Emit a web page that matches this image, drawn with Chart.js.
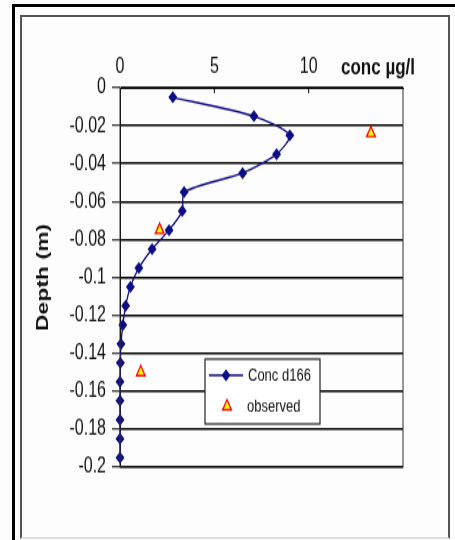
<!DOCTYPE html>
<html>
<head>
<meta charset="utf-8">
<script src="https://cdn.jsdelivr.net/npm/chart.js@4.4.1/dist/chart.umd.min.js"></script>
<style>
html, body { margin: 0; padding: 0; background: #fff; }
#page { position: relative; width: 455px; height: 540px; overflow: hidden; background: #fdfdfd; }
.topbar { position: absolute; left: 13px; top: 4px; width: 442px; height: 3px; background: #000; }
.leftbar { position: absolute; left: 12px; top: 4px; width: 3px; height: 536px; background: #000; }
.frame { position: absolute; left: 20px; top: 15px; width: 430px; height: 524px; box-sizing: border-box;
         border: 2px solid #555; border-bottom-color: #ddd; }
#wrap { position: absolute; left: 0; top: 0; width: 455px; height: 400px;
        transform: scaleY(1.35); transform-origin: 0 0; }
</style>
</head>
<body>
<div id="page">
  <div class="topbar"></div>
  <div class="leftbar"></div>
  <div class="frame"></div>
  <div id="wrap"><canvas id="myChart" width="455" height="400"></canvas></div>
</div>
<script>
// depth (m) of each modelled layer and the modelled concentration
const depth = [-0.005, -0.015, -0.025, -0.035, -0.045, -0.055, -0.065, -0.075, -0.085, -0.095,
               -0.105, -0.115, -0.125, -0.135, -0.145, -0.155, -0.165, -0.175, -0.185, -0.195];
const concD166 = [2.8, 7.1, 9.0, 8.3, 6.5, 3.4, 3.3, 2.6, 1.7, 1.0,
                  0.55, 0.3, 0.15, 0.05, 0.02, 0, 0, 0, 0, 0];

// observed samples
const obsDepth = [-0.024, -0.075, -0.15];
const obsConc = [13.3, 2.1, 1.1];

// tick labels
const xTickLabels = ['0', '5', '10', ''];
const yTickLabels = ['0', '-0.02', '-0.04', '-0.06', '-0.08', '-0.1', '-0.12', '-0.14', '-0.16', '-0.18', '-0.2'];

const FONT = '"Liberation Sans", Arial, sans-serif';
const NAVY = '#0c0c84';

function diamond(ctx, cx, cy, r) {
    ctx.beginPath();
    ctx.moveTo(cx, cy - r);
    ctx.lineTo(cx + r, cy);
    ctx.lineTo(cx, cy + r);
    ctx.lineTo(cx - r, cy);
    ctx.closePath();
    ctx.fill();
}

function triangle(ctx, cx, cy, r) {
    ctx.beginPath();
    ctx.moveTo(cx, cy - r);
    ctx.lineTo(cx + r * 0.87, cy + r * 0.5);
    ctx.lineTo(cx - r * 0.87, cy + r * 0.5);
    ctx.closePath();
    ctx.fill();
    ctx.stroke();
}

// plot frame, inner ticks of the top axis, axis title and the legend box
const decor = {
    id: 'decor',
    afterDraw(chart) {
        const {ctx, chartArea: a, scales: {x}} = chart;
        ctx.save();
        ctx.strokeStyle = '#333';
        ctx.lineWidth = 1;
        ctx.strokeRect(a.left, a.top, a.right - a.left, a.bottom - a.top);

        ctx.strokeStyle = '#000';
        x.ticks.forEach(t => {
            if (t.value === x.min || t.value === x.max) return;
            const px = x.getPixelForValue(t.value);
            ctx.beginPath();
            ctx.moveTo(px, a.top);
            ctx.lineTo(px, a.top + 4);
            ctx.stroke();
        });

        ctx.fillStyle = '#111';
        ctx.font = 'bold 17px ' + FONT;
        ctx.textAlign = 'center';
        ctx.textBaseline = 'bottom';
        ctx.fillText('conc µg/l', a.right - 25, x.bottom - 6);

        // legend
        const lx = 205, ly = 266, lw = 115, lh = 48;
        ctx.fillStyle = '#fff';
        ctx.fillRect(lx, ly, lw, lh);
        ctx.strokeStyle = '#222';
        ctx.lineWidth = 1.2;
        ctx.strokeRect(lx, ly, lw, lh);

        const ds = chart.data.datasets;
        const row1 = ly + 12, row2 = ly + 35;
        ctx.strokeStyle = NAVY;
        ctx.lineWidth = 1.3;
        ctx.beginPath();
        ctx.moveTo(lx + 4, row1);
        ctx.lineTo(lx + 38, row1);
        ctx.stroke();
        ctx.fillStyle = NAVY;
        diamond(ctx, lx + 21, row1, 4.5);

        ctx.fillStyle = '#ffff00';
        ctx.strokeStyle = '#ff0000';
        ctx.lineWidth = 1.3;
        triangle(ctx, lx + 22, row2, 5);

        ctx.fillStyle = '#111';
        ctx.font = '13px ' + FONT;
        ctx.textAlign = 'left';
        ctx.textBaseline = 'middle';
        ctx.fillText(ds[0].label, lx + 43, row1);
        ctx.fillText(ds[1].label, lx + 42, row2);
        ctx.restore();
    }
};

const ctx = document.getElementById('myChart').getContext('2d');
const myChart = new Chart(ctx, {
    type: 'scatter',
    data: {
        datasets: [{
            label: 'Conc d166',
            data: depth.map((d, i) => ({x: concD166[i], y: d})),
            showLine: true,
            borderColor: NAVY,
            backgroundColor: NAVY,
            borderWidth: 1.3,
            tension: 0.25,
            pointStyle: 'rectRot',
            pointRadius: 4.5,
            pointBorderWidth: 0,
            clip: false
        }, {
            label: 'observed',
            data: obsDepth.map((d, i) => ({x: obsConc[i], y: d})),
            showLine: false,
            pointStyle: 'triangle',
            pointRadius: 5,
            backgroundColor: '#ffff00',
            borderColor: '#ff0000',
            borderWidth: 1.3,
            clip: false
        }]
    },
    options: {
        responsive: false,
        animation: false,
        layout: { padding: { left: 29, right: 52, top: 10, bottom: 54 } },
        plugins: { legend: { display: false }, tooltip: { enabled: false } },
        scales: {
            x: {
                position: 'top',
                min: 0,
                max: 15,
                afterFit: s => { s.height = 55; },
                ticks: {
                    stepSize: 5,
                    padding: 6,
                    maxRotation: 0,
                    color: '#111',
                    font: { family: FONT, size: 16 },
                    callback: (v, i) => xTickLabels[i]
                },
                grid: { drawOnChartArea: false, drawTicks: false },
                border: { display: true, color: '#000', width: 1 }
            },
            y: {
                min: -0.2,
                max: 0,
                afterFit: s => { s.width = 91; },
                ticks: {
                    stepSize: 0.02,
                    padding: 6,
                    color: '#111',
                    font: { family: FONT, size: 16 },
                    callback: (v, i, all) => yTickLabels[all.length - 1 - i]
                },
                grid: { color: '#000', lineWidth: 1.5, tickLength: 8, tickColor: '#000', tickWidth: 1 },
                border: { display: true, color: '#000', width: 1 },
                title: {
                    display: true,
                    text: 'Depth (m)',
                    color: '#111',
                    font: { family: FONT, size: 17, weight: 'bold' }
                }
            }
        }
    },
    plugins: [decor]
});
</script>
</body>
</html>
